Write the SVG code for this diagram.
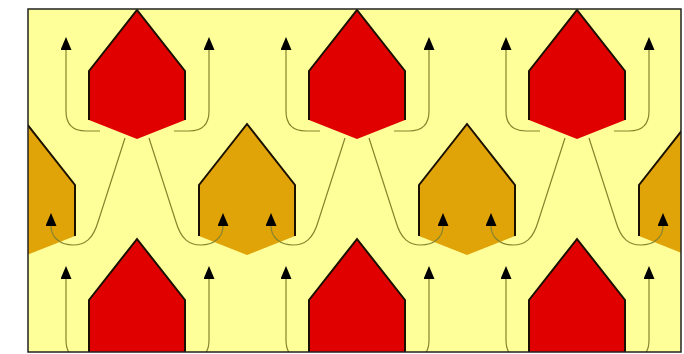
<svg xmlns="http://www.w3.org/2000/svg" xmlns:xlink="http://www.w3.org/1999/xlink" width="684" height="354" viewBox="0 0 684 354">
<style>
.bg{fill:#ffff99}
.red{fill:#e00000;stroke:none}
.gold{fill:#e0a308;stroke:none}
.edge{fill:none;stroke:#1a1000;stroke-width:2;stroke-linejoin:miter}
.flow{fill:none;stroke:#85852e;stroke-width:1.2;marker-end:url(#ah)}
</style>
<defs>
<clipPath id="frame"><rect x="28" y="9" width="653" height="343"/></clipPath>
<marker id="ah" markerUnits="userSpaceOnUse" viewBox="0 0 13 11" refX="0" refY="5.5" markerWidth="13" markerHeight="11" orient="auto">
<path d="M0,0 L13,5.5 L0,11 z" fill="#000"/>
</marker>
<g id="redShape">
<polygon class="red" points="0,0 48,61 48,110 0,129 -48,110 -48,61"/>
<polyline class="edge" points="-48,110 -48,61 0,0 48,61 48,110"/>
</g>
<g id="redTall">
<polygon class="red" points="0,0 48,61 48,130 -48,130 -48,61"/>
<polyline class="edge" points="-48,130 -48,61 0,0 48,61 48,130"/>
</g>
<g id="goldShape">
<polygon class="gold" points="0,0 48,61 48,112 0,131 -48,112 -48,61"/>
<polyline class="edge" points="-48,112 -48,61 0,0 48,61 48,112"/>
</g>
<g id="flows">
<path class="flow" d="M-37,121 L-51,121 Q-71,121 -71,101 L-71,40"/>
<path class="flow" d="M37,121 L52,121 Q72,121 72,101 L72,40"/>
<path class="flow" d="M-12,128 L-39,212 C-44,229 -52,235 -64,235 C-76,235 -86,228 -86,216"/>
<path class="flow" d="M12,128 L39,212 C44,229 52,235 64,235 C76,235 86,228 86,216"/>
</g>
</defs>
<rect x="0" y="0" width="684" height="354" fill="#ffffff"/>
<rect class="bg" x="28" y="9" width="653" height="343"/>
<g clip-path="url(#frame)">
<g id="gold-1"><use xlink:href="#goldShape" transform="translate(27,124)"/></g>
<g id="gold-2"><use xlink:href="#goldShape" transform="translate(247,124)"/></g>
<g id="gold-3"><use xlink:href="#goldShape" transform="translate(467,124)"/></g>
<g id="gold-4"><use xlink:href="#goldShape" transform="translate(687,124)"/></g>
<g id="connectors">
<use xlink:href="#flows" transform="translate(137,10)"/>
<use xlink:href="#flows" transform="translate(357,10)"/>
<use xlink:href="#flows" transform="translate(577,10)"/>
<use xlink:href="#flows" transform="translate(137,239)"/>
<use xlink:href="#flows" transform="translate(357,239)"/>
<use xlink:href="#flows" transform="translate(577,239)"/>
</g>
<g id="red-1"><use xlink:href="#redShape" transform="translate(137,10)"/></g>
<g id="red-2"><use xlink:href="#redShape" transform="translate(357,10)"/></g>
<g id="red-3"><use xlink:href="#redShape" transform="translate(577,10)"/></g>
<g id="red-4"><use xlink:href="#redTall" transform="translate(137,239)"/></g>
<g id="red-5"><use xlink:href="#redTall" transform="translate(357,239)"/></g>
<g id="red-6"><use xlink:href="#redTall" transform="translate(577,239)"/></g>
</g>
<rect x="28" y="9" width="653" height="343" fill="none" stroke="#222" stroke-width="1.5"/>
</svg>
